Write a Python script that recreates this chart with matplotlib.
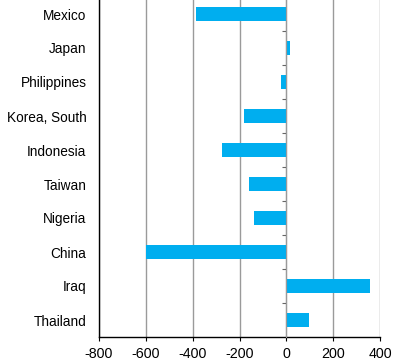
import matplotlib
matplotlib.use('Agg')
import matplotlib.pyplot as plt
import numpy as np

# Data (top to bottom)
countries = ['Mexico', 'Japan', 'Philippines', 'Korea, South', 'Indonesia',
             'Taiwan', 'Nigeria', 'China', 'Iraq', 'Thailand']
values = [-385, 16, -24, -182, -276, -159, -138, -600, 358, 98]
xticks = [-800, -600, -400, -200, 0, 200, 400]

plt.rcParams['font.family'] = ['Liberation Sans', 'DejaVu Sans']
plt.rcParams['font.size'] = 9.8

fig = plt.figure(figsize=(4.0, 3.64), dpi=100)
# top of the axes sits just above the picture edge (cropped chart)
ax = fig.add_axes([99/400, 27/364, 281/400, 340/364])

pos = np.arange(len(countries))
ax.barh(pos, values, height=0.39, color='#00AEEF', zorder=3)
ax.set_yticks(pos)
ax.set_yticklabels(countries)
ax.set_ylim(len(countries) - 0.5, -0.5)
ax.set_xlim(-800, 400)
ax.set_xticks(xticks)
ax.set_xticklabels([str(v) for v in xticks], fontsize=10.3)

ax.grid(axis='x', color='#9a9a9a', linewidth=1.0, zorder=0)
ax.tick_params(axis='y', length=0, pad=9)
ax.tick_params(axis='x', length=3, width=0.8, direction='out', pad=4)
ax.spines['top'].set_visible(False)
ax.spines['right'].set_visible(False)
ax.spines['left'].set_linewidth(1.0)
ax.spines['bottom'].set_linewidth(1.0)

# category axis crossing at zero, with small ticks between categories
ax2 = ax.twinx()
ax2.set_ylim(ax.get_ylim())
for s in ['top', 'left', 'bottom']:
    ax2.spines[s].set_visible(False)
ax2.spines['right'].set_position(('data', 0))
ax2.spines['right'].set_color('#9a9a9a')
ax2.set_yticks(pos[:-1] + 0.5)
ax2.tick_params(axis='y', direction='in', length=3, color='#666666', labelright=False)

fig.savefig('out.png', dpi=100)
